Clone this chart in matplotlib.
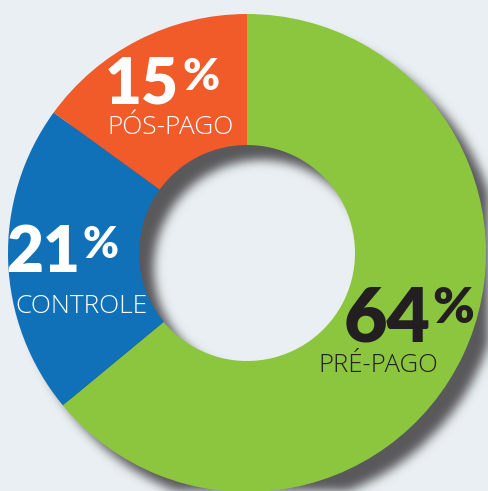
import numpy as np
import matplotlib
matplotlib.use('Agg')
import matplotlib.pyplot as plt

# dados
labels = ['PRÉ-PAGO', 'CONTROLE', 'PÓS-PAGO']
shares = [64, 21, 15]
colors = ['#8cc63f', '#1071b9', '#f15b2a']
text_colors = ['#231f20', 'white', 'white']

W, H = 489, 491
bg = '#e9eff2'
cx, cy = 247, 253          # centro em pixels (y para baixo)
r_out, r_in = 239, 108

fig = plt.figure(figsize=(W / 100, H / 100), dpi=100, facecolor=bg)
ax = fig.add_axes([0, 0, 1, 1])
ax.set_facecolor(bg)

# sombra desfocada do anel (deslocada para baixo/direita)
dx, dy, sig = 15, 15, 5.0
yy, xx = np.mgrid[0:H, 0:W]
rr = np.hypot(xx + 0.5 - (cx + dx), yy + 0.5 - (cy + dy))
mask = ((rr <= r_out) & (rr >= r_in)).astype(float)
kx = np.arange(-int(4 * sig), int(4 * sig) + 1)
k = np.exp(-kx ** 2 / (2 * sig ** 2))
k /= k.sum()
mask = np.apply_along_axis(lambda m: np.convolve(m, k, mode='same'), 0, mask)
mask = np.apply_along_axis(lambda m: np.convolve(m, k, mode='same'), 1, mask)
shadow = np.zeros((H, W, 4))
shadow[..., :3] = np.array([88, 87, 90]) / 255
shadow[..., 3] = mask
ax.imshow(shadow, extent=(0, W, 0, H), origin='upper', zorder=0, interpolation='bilinear')

ax.pie(shares, colors=colors, startangle=90, counterclock=False,
       radius=r_out, center=(cx, H - cy),
       wedgeprops=dict(width=r_out - r_in, linewidth=0))

ax.set_xlim(0, W)
ax.set_ylim(0, H)
ax.set_aspect('equal')
ax.axis('off')

big_font = ['Lato', 'DejaVu Sans']
lab_font = ['Open Sans', 'DejaVu Sans']
# posições (px, y para baixo): número (x direita, base), % (x esquerda, base), rótulo (centro, base)
layout = {
    'PÓS-PAGO': dict(num=(179, 103), pct=(182, 90), lab=(170, 134), nsize=46, psize=32, lsize=19),
    'CONTROLE': dict(num=(80, 272), pct=(82, 258), lab=(81, 313), nsize=46, psize=31, lsize=19),
    'PRÉ-PAGO': dict(num=(431, 342), pct=(432, 323), lab=(378, 372), nsize=54, psize=36, lsize=18.5),
}
for lab, val, tc in zip(labels, shares, text_colors):
    p = layout[lab]
    ax.text(p['num'][0], H - p['num'][1], str(val), ha='right', va='baseline',
            color=tc, fontsize=p['nsize'], fontweight='heavy', family=big_font)
    ax.text(p['pct'][0], H - p['pct'][1], '%', ha='left', va='baseline',
            color=tc, fontsize=p['psize'], fontweight='heavy', family=big_font)
    ax.text(p['lab'][0], H - p['lab'][1], lab, ha='center', va='baseline',
            color=tc, fontsize=p['lsize'], fontweight=300, family=lab_font)

fig.savefig('out.png', dpi=100, facecolor=bg)
